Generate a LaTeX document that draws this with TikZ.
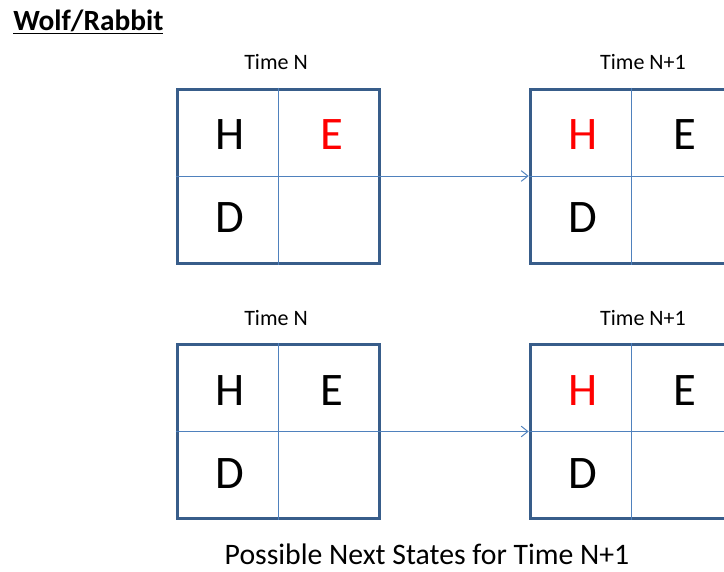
\documentclass[tikz,border=0pt]{standalone}
\usepackage{fontspec}
\setmainfont{Carlito}
\usetikzlibrary{arrows.meta}
\definecolor{gridblue}{HTML}{385D8A}
\definecolor{lineblue}{HTML}{4F81BD}
\begin{document}
\begin{tikzpicture}[x=0.75pt, y=-0.75pt, >={Straight Barb[length=5pt,width=8pt]}]
\useasboundingbox (0,0) rectangle (724,571);
\clip (0,0) rectangle (724,571);
\tikzset{grid/.style={draw=gridblue, line width=2.25pt, minimum width=152pt, minimum height=130.5pt, inner sep=0pt},
  inner/.style={draw=lineblue, line width=0.75pt},
  letter/.style={font=\fontsize{35}{35}\selectfont},
  timelabel/.style={font=\fontsize{16.5}{16.5}\selectfont}}
% grids
\node[grid] (g1) at (278.5,176) {};\node[grid] (g2) at (631.5,176) {};
\node[grid] (g3) at (278.5,431.5) {};\node[grid] (g4) at (631.5,431.5) {};
\foreach \g in {g1,g2,g3,g4} {\draw[inner] (\g.north) -- (\g.south);\draw[inner] (\g.west) -- (\g.east);}
% arrows
\draw[inner, ->] (g1.east) -- (g2.west);\draw[inner, ->] (g3.east) -- (g4.west);
% cell letters
\node[letter] (h1) at ([shift={(-48.5,-41)}]g1.center) {H};\node[letter, red] (e1) at ([shift={(53.5,-41)}]g1.center) {E};\node[letter] (d1) at ([shift={(-48.5,42)}]g1.center) {D};
\node[letter, red] (h2) at ([shift={(-48.5,-41)}]g2.center) {H};\node[letter] (e2) at ([shift={(53.5,-41)}]g2.center) {E};\node[letter] (d2) at ([shift={(-48.5,42)}]g2.center) {D};
\node[letter] (h3) at ([shift={(-48.5,-41)}]g3.center) {H};\node[letter] (e3) at ([shift={(53.5,-41)}]g3.center) {E};\node[letter] (d3) at ([shift={(-48.5,42)}]g3.center) {D};
\node[letter, red] (h4) at ([shift={(-48.5,-41)}]g4.center) {H};\node[letter] (e4) at ([shift={(53.5,-41)}]g4.center) {E};\node[letter] (d4) at ([shift={(-48.5,42)}]g4.center) {D};
% time labels
\node[timelabel] (t1) at (276,62) {Time N};\node[timelabel] (t2) at (643,62) {Time N+1};
\node[timelabel] (t3) at (276,318) {Time N};\node[timelabel] (t4) at (643,318) {Time N+1};
% titles
\node[anchor=west, inner sep=0pt, font=\fontsize{22}{22}\selectfont\bfseries] (title) at (13,22) {\underline{Wolf/Rabbit}};
\node[font=\fontsize{22.3}{22.3}\selectfont] (caption) at (427,554) {Possible Next States for Time N+1};
\end{tikzpicture}
\end{document}
